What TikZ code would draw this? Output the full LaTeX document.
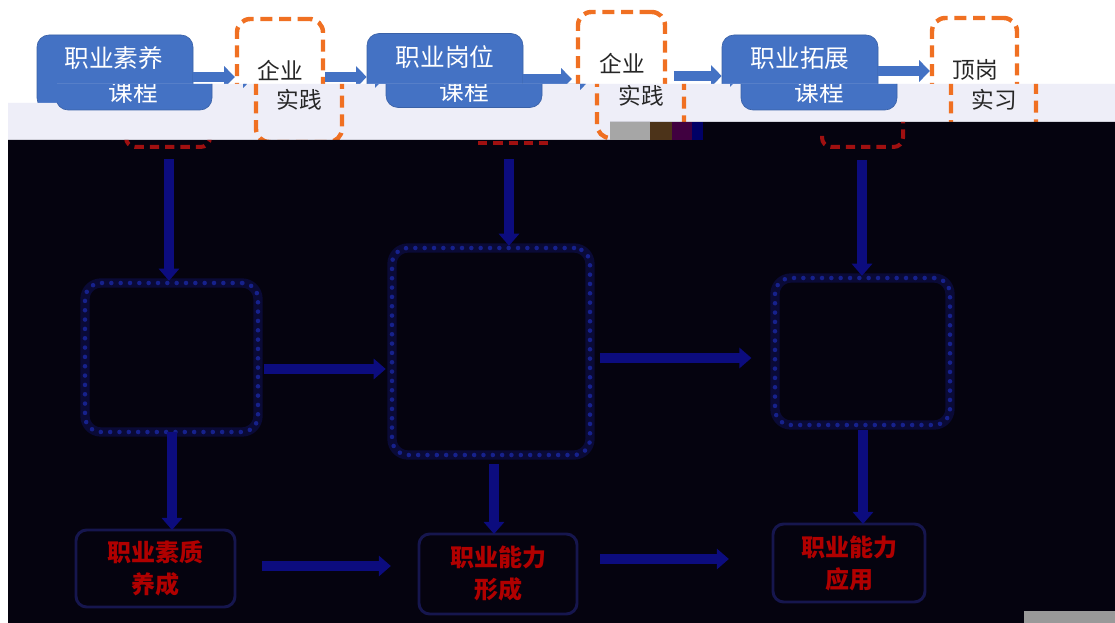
\documentclass[tikz,border=0pt]{standalone}
\usepackage{fontspec}
\newfontfamily\cjk{Noto Sans CJK SC}
\usetikzlibrary{arrows.meta}
\definecolor{boxblue}{HTML}{4472C4}
\definecolor{orng}{HTML}{F07022}
\definecolor{lav}{HTML}{EEEEF8}
\definecolor{night}{HTML}{05030F}
\definecolor{navy}{HTML}{0C0C7E}
\definecolor{dotblue}{HTML}{16218C}
\definecolor{glowblue}{HTML}{0A0A36}
\definecolor{edgeblue}{HTML}{16164E}
\definecolor{dred}{HTML}{B00000}
\definecolor{dashred}{HTML}{A01010}
\newcommand{\toprowshapes}{%
  \node[bluebox, minimum width=117pt, minimum height=56.25pt] (B1) at (115,72.5) {};
  \node[bluebox, minimum width=117pt, minimum height=55.5pt] (B2) at (445,70.5) {};
  \node[bluebox, minimum width=117pt, minimum height=56.25pt] (B3) at (800,72.5) {};
  \node[orbox, minimum width=64.5pt, minimum height=92.25pt] (O1) at (280,80.5) {};
  \node[orbox, minimum width=65.25pt, minimum height=94.5pt] (O2) at (621.5,75) {};
  \node[orbox, minimum width=63.75pt, minimum height=95.25pt] (O3) at (974.5,81.5) {};
  \draw[toparrow] (B1.east |- 0,77) -- (O1.west |- 0,77);
  \draw[toparrow] (O1.east |- 0,77) -- (B2.west |- 0,77);
  \draw[toparrow, shorten >=3pt] (B2.east |- 0,79) -- (O2.west |- 0,79);
  \draw[toparrow, shorten <=5pt] (O2.east |- 0,76) -- (B3.west |- 0,76);
  \draw[toparrow] (B3.east |- 0,71) -- (O3.west |- 0,71);
}
\begin{document}
\begin{tikzpicture}[x=0.75pt,y=-0.75pt,
  bluebox/.style={fill=boxblue, draw=boxblue!85!black, line width=0.5pt, rounded corners=9pt, inner sep=0pt},
  btext/.style={inner sep=0pt, text=white, font=\cjk\fontsize{18.5pt}{22.5pt}\selectfont},
  orbox/.style={draw=orng, line width=3.3pt, dash pattern=on 9pt off 5pt, rounded corners=10pt, inner sep=0pt},
  otext/.style={inner sep=0pt, text=black!85, font=\cjk\fontsize{17pt}{23pt}\selectfont},
  toparrow/.style={draw=boxblue, line width=8pt, -{Triangle[width=16pt,length=8pt]}},
  navarrow/.style={draw=navy, line width=7pt, -{Triangle[width=15pt,length=9pt]}},
  dotbox/.style={draw=dotblue, line width=3.4pt, dash pattern=on 0pt off 7pt, line cap=round,
    rounded corners=12pt, inner sep=0pt,
    preaction={draw=glowblue, line width=7pt, solid}},
  botbox/.style={draw=edgeblue, line width=2.2pt, rounded corners=8pt, inner sep=0pt,
    text=dred, align=center, font=\cjk\bfseries\fontsize{18pt}{24pt}\selectfont},
  reddash/.style={draw=dashred, line width=3pt, dash pattern=on 7pt off 4.5pt, rounded corners=7pt}
]
\useasboundingbox (0,0) rectangle (1115,623);
\fill[white] (0,0) rectangle (1115,623);
% upper band, unshifted
\begin{scope}
  \clip (0,0) -- (1115,0) -- (1115,84) -- (57,84) -- (57,103) -- (0,103) -- cycle;
  \toprowshapes
  \node[btext] (B1a) at (114,58) {职业素养};
  \node[btext] (B2a) at (445,57) {职业岗位};
  \node[btext] (B3a) at (800,58) {职业拓展};
  \node[otext] (T1a) at (280,70) {企业};
  \node[otext] (T2a) at (622,63) {企业};
  \node[otext] (T3a) at (975,70) {顶岗};
\end{scope}
% lower band, shifted
\begin{scope}
  \clip (8,103) -- (57,103) -- (57,84) -- (1115,84) -- (1115,122) -- (610,122) -- (610,140) -- (8,140) -- cycle;
  \fill[lav] (0,0) rectangle (1115,623);
  \begin{scope}[xshift=14.25pt]
    \toprowshapes
    \node[btext] (B1b) at (114,92) {课程};
    \node[btext] (B2b) at (445,91) {课程};
    \node[btext] (B3b) at (800,92) {课程};
    \node[otext] (T1b) at (280,100) {实践};
    \node[otext] (T2b) at (622,96) {实践};
    \node[otext] (T3b) at (975,100) {实习};
  \end{scope}
\end{scope}
% dark region
\fill[night] (8,140) -- (610,140) -- (610,122) -- (1115,122) -- (1115,623) -- (8,623) -- cycle;
\fill[gray!70] (610,122) rectangle (650,140);
\fill[brown!40!black] (650,122) rectangle (672,140);
\fill[violet!50!black] (672,122) rectangle (692,140);
\fill[blue!40!black] (692,122) rectangle (703,140);
\fill[gray!80] (1024,611) rectangle (1115,623);
\begin{scope}
  \clip (8,140) -- (610,140) -- (610,122) -- (1115,122) -- (1115,623) -- (8,623) -- cycle;
  \draw[reddash] (126,136) -- (126,147) -- (210,147) -- (210,136);
  \draw[reddash] (478,143) -- (548,143);
  \draw[reddash] (822,136) -- (822,147) -- (903,147) -- (903,122);
\end{scope}
% dotted boxes
\node[dotbox, minimum width=129.75pt, minimum height=111.75pt] (DL) at (171.5,357.5) {};
\node[dotbox, minimum width=148.5pt, minimum height=155.25pt] (DM) at (491,351.5) {};
\node[dotbox, minimum width=131.25pt, minimum height=110.25pt] (DR) at (862.5,351.5) {};
% bottom boxes
\node[botbox, minimum width=119.25pt, minimum height=57.75pt] (BL) at (155.5,568.5) {职业素质\\养成};
\node[botbox, minimum width=118.5pt, minimum height=60pt] (BM) at (498,574) {职业能力\\形成};
\node[botbox, minimum width=114pt, minimum height=58.5pt] (BR) at (849,563) {职业能力\\应用};
% arrows in dark region
\coordinate (SL) at (169,159);
\coordinate (SM) at (509,159);
\coordinate (SR) at (862,160);
\draw[navarrow] (SL) -- (SL |- DL.north);
\draw[navarrow] (SM) -- (SM |- DM.north);
\draw[navarrow] (SR) -- (SR |- DR.north);
\draw[navarrow, shorten <=3pt, shorten >=3pt] (DL.east |- 0,369) -- (DM.west |- 0,369);
\draw[navarrow, shorten <=6pt, shorten >=16pt] (DM.east |- 0,358) -- (DR.west |- 0,358);
\draw[navarrow] (172,432) -- (172,530);
\draw[navarrow, shorten <=7pt] (494,455) -- (494,534);
\draw[navarrow, shorten <=4pt] (863,425) -- (863,524);
\draw[navarrow, shorten <=19pt, shorten >=20pt] (BL.east |- 0,566) -- (BM.west |- 0,566);
\draw[navarrow, shorten <=16pt, shorten >=32pt] (BM.east |- 0,559) -- (BR.west |- 0,559);
\end{tikzpicture}
\end{document}
